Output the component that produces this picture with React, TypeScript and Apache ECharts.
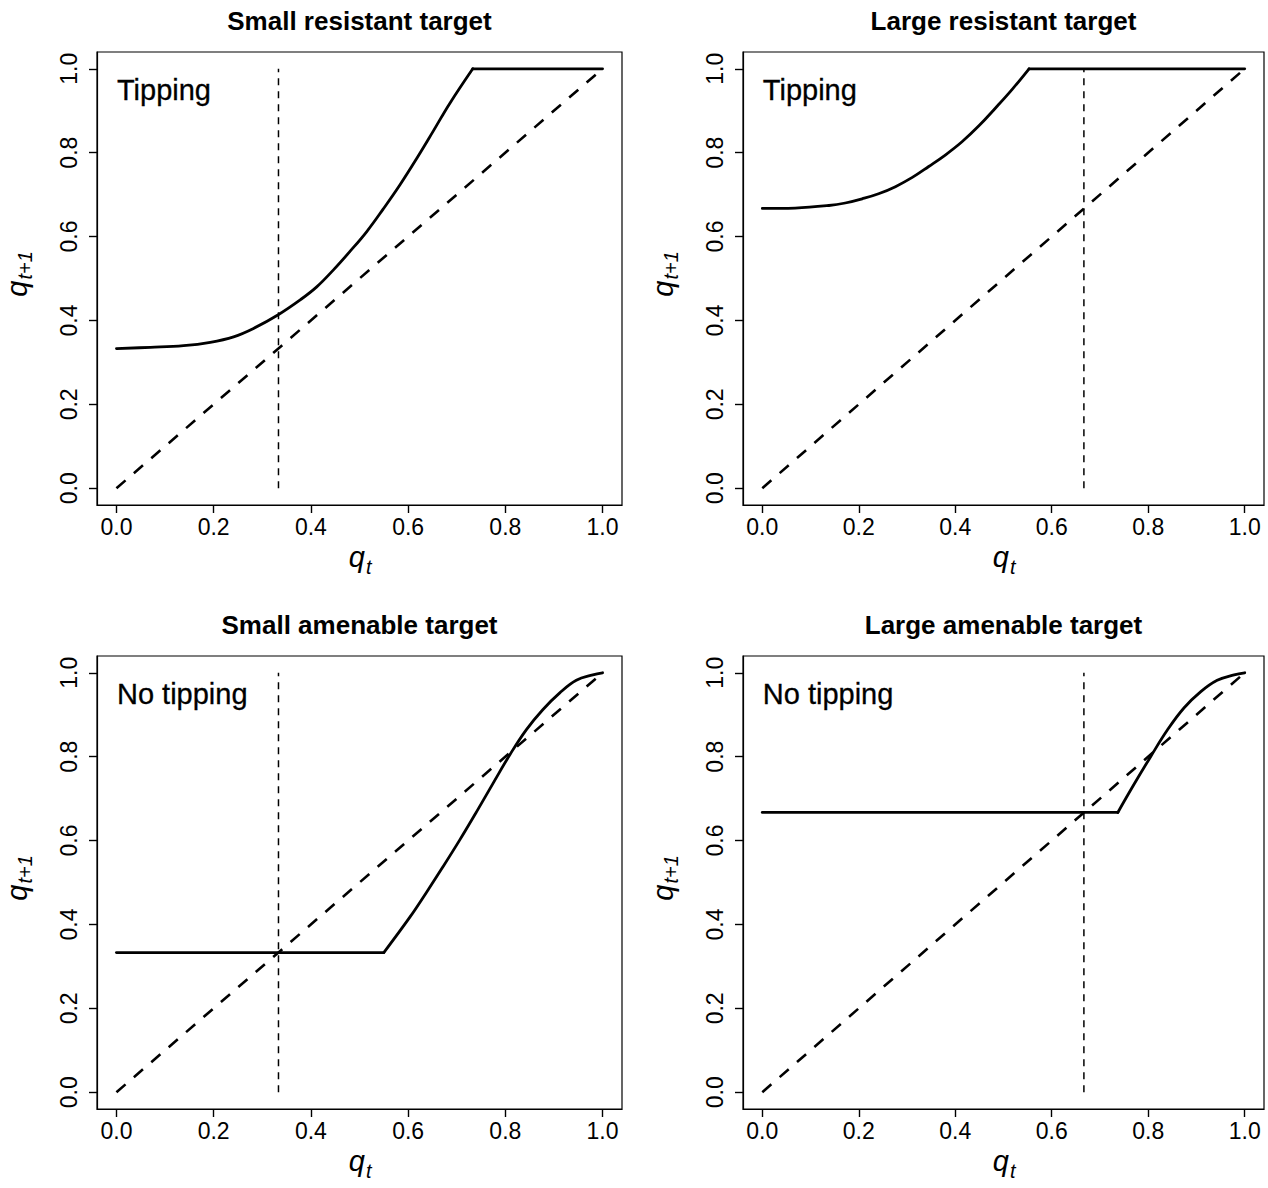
import React, { useEffect, useRef } from "react";
import * as echarts from "echarts";

const FONT = '"Liberation Sans", Arial, Helvetica, sans-serif';

// Panel text
const panelTitles = [
  "Small resistant target",
  "Large resistant target",
  "Small amenable target",
  "Large amenable target",
];
const regimeLabels = ["Tipping", "Tipping", "No tipping", "No tipping"];

// Target share (vertical reference line) per panel
const targetShares = [1 / 3, 2 / 3, 1 / 3, 2 / 3];

// Tick positions shared by both axes
const tickValues = [0, 0.2, 0.4, 0.6, 0.8, 1.0];

// Update map q_t -> q_{t+1}, one pair of arrays per panel
const smallResistantQt = [0, 0.07, 0.138, 0.193, 0.241, 0.282, 0.332, 0.378, 0.412, 0.446, 0.48, 0.515, 0.549, 0.583, 0.617, 0.652, 0.686, 0.733, 1.0];
const smallResistantNext = [0.333, 0.336, 0.34, 0.348, 0.361, 0.381, 0.413, 0.449, 0.48, 0.52, 0.564, 0.612, 0.666, 0.723, 0.785, 0.852, 0.918, 1.0, 1.0];

const largeResistantQt = [0, 0.068, 0.138, 0.172, 0.207, 0.241, 0.276, 0.311, 0.345, 0.38, 0.414, 0.449, 0.483, 0.518, 0.553, 1.0];
const largeResistantNext = [0.667, 0.668, 0.674, 0.68, 0.69, 0.702, 0.719, 0.741, 0.767, 0.795, 0.826, 0.864, 0.906, 0.951, 1.0, 1.0];

const smallAmenableQt = [0, 0.55, 0.604, 0.638, 0.672, 0.706, 0.741, 0.775, 0.809, 0.843, 0.877, 0.912, 0.946, 0.98, 1.0];
const smallAmenableNext = [0.333, 0.333, 0.418, 0.477, 0.538, 0.601, 0.669, 0.737, 0.804, 0.864, 0.912, 0.952, 0.982, 0.995, 1.0];

const largeAmenableQt = [0, 0.737, 0.77, 0.805, 0.84, 0.874, 0.909, 0.943, 0.978, 1.0];
const largeAmenableNext = [0.667, 0.667, 0.733, 0.8, 0.864, 0.916, 0.955, 0.982, 0.995, 1.0];

const curveQt = [smallResistantQt, largeResistantQt, smallAmenableQt, largeAmenableQt];
const curveNext = [smallResistantNext, largeResistantNext, smallAmenableNext, largeAmenableNext];

// Plot areas (2 x 2)
const gridRects = [
  { left: 97, top: 52, width: 525, height: 453 },
  { left: 743, top: 52, width: 521, height: 453 },
  { left: 97, top: 656, width: 525, height: 453 },
  { left: 743, top: 656, width: 521, height: 453 },
];

// Split a curve into flat runs (straight) and curved runs (smoothed),
// so that the kinks where the map saturates stay sharp.
function splitRuns(xs: number[], ys: number[]) {
  const runs: { flat: boolean; pts: number[][] }[] = [];
  let curFlat = ys[1] === ys[0];
  let cur: number[][] = [[xs[0], ys[0]]];
  for (let i = 1; i < xs.length; i++) {
    const flat = ys[i] === ys[i - 1];
    if (flat !== curFlat) {
      runs.push({ flat: curFlat, pts: cur });
      cur = [[xs[i - 1], ys[i - 1]]];
      curFlat = flat;
    }
    cur.push([xs[i], ys[i]]);
  }
  runs.push({ flat: curFlat, pts: cur });
  return runs;
}

function buildOption() {
  const grid: any[] = [];
  const xAxis: any[] = [];
  const yAxis: any[] = [];
  const series: any[] = [];
  const graphic: any[] = [];

  const labelStyle = { fontSize: 23, fontFamily: FONT, color: "#000" };
  const lineStyle = { color: "#000", width: 1.2 };
  const tickLine = { color: "#000", width: 1.4 };

  gridRects.forEach((r, i) => {
    grid.push({
      ...r,
      show: true,
      borderColor: "#000",
      borderWidth: 1.2,
      backgroundColor: "transparent",
      containLabel: false,
      outerBoundsMode: "none",
    });
    xAxis.push({
      type: "value",
      gridIndex: i,
      position: "bottom",
      min: -0.04,
      max: 1.04,
      axisLine: { show: true, onZero: false, lineStyle },
      splitLine: { show: false },
      axisTick: { show: true, inside: false, length: 8, lineStyle: tickLine, customValues: tickValues },
      axisLabel: { ...labelStyle, margin: 10, customValues: tickValues, formatter: (v: number) => v.toFixed(1) },
    });
    yAxis.push({
      type: "value",
      gridIndex: i,
      position: "left",
      min: -0.04,
      max: 1.04,
      axisLine: { show: true, onZero: false, lineStyle },
      splitLine: { show: false },
      axisTick: { show: true, inside: false, length: 8, lineStyle: tickLine, customValues: tickValues },
      axisLabel: { ...labelStyle, margin: 17, rotate: 90, customValues: tickValues, formatter: (v: number) => v.toFixed(1) },
    });

    // Update map
    splitRuns(curveQt[i], curveNext[i]).forEach((run) => {
      series.push({
        type: "line",
        xAxisIndex: i,
        yAxisIndex: i,
        data: run.pts,
        showSymbol: false,
        symbol: "none",
        smooth: run.flat ? false : 0.4,
        lineStyle: { color: "#000", width: 2.8, cap: "round", join: "round" },
        z: 4,
        silent: true,
      });
    });

    // 45-degree line q_{t+1} = q_t
    series.push({
      type: "line",
      xAxisIndex: i,
      yAxisIndex: i,
      data: [
        [tickValues[0], tickValues[0]],
        [tickValues[tickValues.length - 1], tickValues[tickValues.length - 1]],
      ],
      showSymbol: false,
      symbol: "none",
      lineStyle: { color: "#000", width: 2.6, type: [12, 11] },
      z: 3,
      silent: true,
    });

    // Target share marker
    series.push({
      type: "line",
      xAxisIndex: i,
      yAxisIndex: i,
      data: [
        [targetShares[i], tickValues[0]],
        [targetShares[i], tickValues[tickValues.length - 1]],
      ],
      showSymbol: false,
      symbol: "none",
      lineStyle: { color: "#000", width: 1.5, type: [7, 6] },
      z: 3,
      silent: true,
    });

    // Regime annotation
    series.push({
      type: "scatter",
      xAxisIndex: i,
      yAxisIndex: i,
      data: [[0, 0.95]],
      symbolSize: 1,
      itemStyle: { color: "transparent" },
      silent: true,
      label: {
        show: true,
        position: "right",
        distance: 0,
        formatter: regimeLabels[i],
        fontSize: 29,
        fontFamily: FONT,
        color: "#000",
        opacity: 1,
        textBorderColor: "#000",
        textBorderWidth: 0.3,
      },
      z: 5,
    });

    const cx = r.left + r.width / 2;
    const bottom = r.top + r.height;

    // Panel title
    graphic.push({
      type: "text",
      x: cx,
      y: r.top - 31,
      style: {
        text: panelTitles[i],
        fill: "#000",
        fontSize: 26,
        fontWeight: "bold",
        fontFamily: FONT,
        align: "center",
        verticalAlign: "middle",
      },
    });

    // x-axis title: q_t
    graphic.push({
      type: "text",
      x: cx + 5.5,
      y: bottom + 52,
      style: { text: "q", fill: "#000", fontSize: 29, fontStyle: "italic", fontFamily: FONT, align: "right", verticalAlign: "middle" },
    });
    graphic.push({
      type: "text",
      x: cx + 6.5,
      y: bottom + 61.5,
      style: { text: "t", fill: "#000", fontSize: 20, fontStyle: "italic", fontFamily: FONT, align: "left", verticalAlign: "middle" },
    });

    // y-axis title: q_{t+1}, rotated
    graphic.push({
      type: "group",
      x: r.left - 71,
      y: r.top + r.height / 2 - 2,
      rotation: Math.PI / 2,
      children: [
        {
          type: "text",
          x: -4,
          y: -9.4,
          style: { text: "q", fill: "#000", fontSize: 29, fontStyle: "italic", fontFamily: FONT, align: "right", verticalAlign: "middle" },
        },
        {
          type: "text",
          x: -3,
          y: -0.6,
          style: { text: "t+1", fill: "#000", fontSize: 20, fontStyle: "italic", fontFamily: FONT, align: "left", verticalAlign: "middle" },
        },
      ],
    });
  });

  return {
    animation: false,
    backgroundColor: "#fff",
    grid,
    xAxis,
    yAxis,
    series,
    graphic,
  };
}

export default function App() {
  const ref = useRef<HTMLDivElement>(null);
  useEffect(() => {
    if (!ref.current) return;
    const chart = echarts.init(ref.current, null, { renderer: "svg" });
    chart.setOption(buildOption());
    return () => chart.dispose();
  }, []);
  return (
    <div
      ref={ref}
      style={{ position: "fixed", left: 0, top: 0, width: 1268, height: 1188, background: "#fff" }}
    />
  );
}
